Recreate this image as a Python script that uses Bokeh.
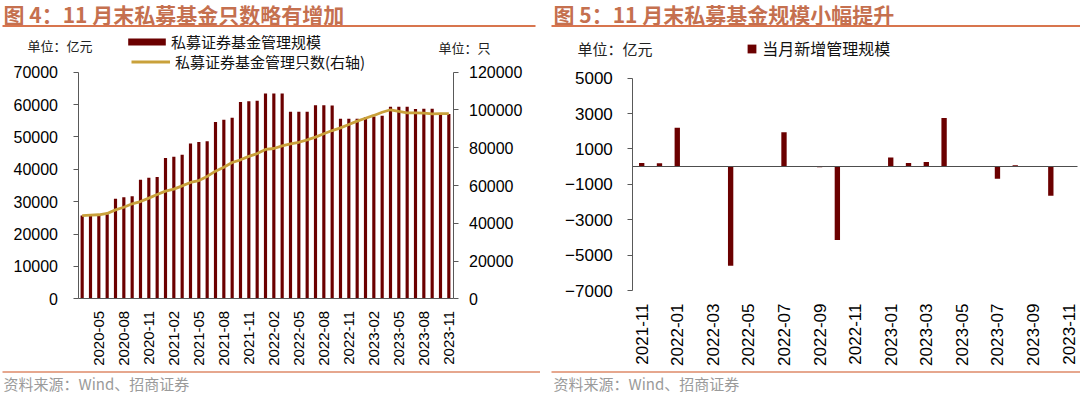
from bokeh.plotting import figure
from bokeh.models import (Range1d, LinearAxis, FixedTicker, Label, Legend, LegendItem,
                          BoxAnnotation, BasicTickFormatter)
from bokeh.layouts import row
from bokeh.embed import file_html
from bokeh.resources import INLINE
import math

# ---------------- data ----------------
months_left = ["2020-03", "2020-04", "2020-05", "2020-06", "2020-07", "2020-08", "2020-09",
               "2020-10", "2020-11", "2020-12", "2021-01", "2021-02", "2021-03", "2021-04",
               "2021-05", "2021-06", "2021-07", "2021-08", "2021-09", "2021-10", "2021-11",
               "2021-12", "2022-01", "2022-02", "2022-03", "2022-04", "2022-05", "2022-06",
               "2022-07", "2022-08", "2022-09", "2022-10", "2022-11", "2022-12", "2023-01",
               "2023-02", "2023-03", "2023-04", "2023-05", "2023-06", "2023-07", "2023-08",
               "2023-09", "2023-10", "2023-11"]
aum_left = [25700, 25800, 25900, 26100, 30900, 31400, 31700, 36800, 37400, 37600,
            43500, 43900, 44500, 48000, 48400, 48700, 54600, 55300, 55900, 60800,
            61000, 61200, 63400, 63400, 63400, 57800, 57800, 57800, 59800, 59800,
            59750, 55600, 55600, 55600, 56100, 56300, 56550, 59300, 59300, 59320,
            58650, 58720, 58720, 57070, 57080]
count_left = [44100, 44300, 44500, 45200, 47100, 48500, 50300, 51500, 53300, 55200,
              57000, 58100, 59800, 61600, 62600, 64800, 67600, 69700, 72200, 73600,
              75400, 76900, 79100, 79600, 81000, 82100, 82900, 84200, 85600, 87400,
              89100, 90500, 92300, 94100, 95600, 97100, 98800, 100100, 99200, 98500,
              98500, 98300, 97900, 98100, 98100]
left_tick_idx = [2, 5, 8, 11, 14, 17, 20, 23, 26, 29, 32, 35, 38, 41, 44]

months_right = ["2021-11", "2021-12", "2022-01", "2022-02", "2022-03", "2022-04", "2022-05",
                "2022-06", "2022-07", "2022-08", "2022-09", "2022-10", "2022-11", "2022-12",
                "2023-01", "2023-02", "2023-03", "2023-04", "2023-05", "2023-06", "2023-07",
                "2023-08", "2023-09", "2023-10", "2023-11"]
change_right = [200, 190, 2200, 0, 10, -5600, 0, 10, 1950, 10, -40, -4150, -10, 0,
                520, 200, 260, 2750, 0, 20, -680, 75, 0, -1650, 10]
right_tick_idx = [0, 2, 4, 6, 8, 10, 12, 14, 16, 18, 20, 22, 24]

left_yticks = [0, 10000, 20000, 30000, 40000, 50000, 60000, 70000]
right_yticks = [0, 20000, 40000, 60000, 80000, 100000, 120000]
chg_yticks = [-7000, -5000, -3000, -1000, 1000, 3000, 5000]

# ---------------- styles / geometry ----------------
BAR = "#6B0000"
GOLD = "#C9A13B"
TITLE_C = "#C5704F"
RULE_C = "#D8754E"
FOOT_RULE_C = "#DE8A68"
AXIS_C = "#595959"
CJK = "Noto Sans CJK SC"
LAT = "Liberation Sans"
W, H = 540, 395


def xrange_from(d0, p0, d1, p1):
    s = (d1 - d0) / (p1 - p0)
    return Range1d(d0 - p0 * s, d0 + (W - p0) * s)


def yrange_from(d0, p0, d1, p1):
    # d0 at pixel p0 (lower value, larger pixel), d1 at pixel p1
    s = (d1 - d0) / (p0 - p1)
    return Range1d(d0 - (H - p0) * s, d0 + p0 * s)


def make_fig(xr, yr):
    p = figure(width=W, height=H, x_range=xr, y_range=yr, output_backend="svg",
               toolbar_location=None, x_axis_location=None, y_axis_location=None,
               min_border_left=0, min_border_right=0, min_border_top=0,
               min_border_bottom=0)
    p.outline_line_color = None
    p.grid.visible = False
    p.background_fill_color = "white"
    return p


def style_axis(ax, size, standoff, tick_out=5):
    ax.axis_line_color = AXIS_C
    ax.axis_line_width = 1
    ax.major_tick_line_color = AXIS_C
    ax.major_tick_out = tick_out
    ax.major_tick_in = 0
    ax.minor_tick_line_color = None
    ax.major_label_text_font = LAT
    ax.major_label_text_font_size = size
    ax.major_label_text_color = "#000000"
    ax.major_label_standoff = standoff


def add_text(p, px, py, text, size, color, font=CJK, style="normal"):
    p.add_layout(Label(x=px, y=H - py, x_units="screen", y_units="screen",
                       text=text, text_font=font, text_font_size=size,
                       text_color=color, text_baseline="middle", text_align="left",
                       text_font_style=style))


def add_rule(p, x0, x1, py, color, t):
    p.add_layout(BoxAnnotation(left=x0, right=x1, bottom=H - py - t / 2,
                               top=H - py + t / 2, left_units="screen", right_units="screen",
                               top_units="screen", bottom_units="screen",
                               fill_color=color, fill_alpha=1, line_color=None,
                               line_alpha=0))


def legend(items, vx, vy, gw, gh, standoff, size):
    return Legend(items=items, location=(vx, vy), glyph_width=gw, glyph_height=gh,
                  label_standoff=standoff, padding=0, margin=0, label_height=20,
                  spacing=0, label_text_font=CJK, label_text_font_size=size,
                  label_text_color="#111111", border_line_color=None,
                  background_fill_alpha=0)


# ---------------- left figure ----------------
p1 = make_fig(xrange_from(-0.5, 77.5, 44.5, 452.5), yrange_from(0, 298.3, 70000, 71.7))
p1.extra_y_ranges = {"cnt": yrange_from(0, 298.3, 120000, 71.7)}

xs_left = list(range(len(months_left)))
bars1 = p1.vbar(x=xs_left, top=aum_left, width=0.38, bottom=0, fill_color=BAR,
                line_color=None)
line1 = p1.line(x=xs_left, y=count_left, y_range_name="cnt", line_color=GOLD,
                line_width=2.8)

ya_l = LinearAxis(fixed_location=-0.5, bounds=(0, 70000), ticker=FixedTicker(ticks=left_yticks))
style_axis(ya_l, "16px", 15)
p1.add_layout(ya_l, "left")

ya_r = LinearAxis(y_range_name="cnt", fixed_location=44.5, bounds=(0, 120000),
                  ticker=FixedTicker(ticks=right_yticks),
                  formatter=BasicTickFormatter(use_scientific=False))
style_axis(ya_r, "16px", 11)
p1.add_layout(ya_r, "right")

xa_l = LinearAxis(fixed_location=0, bounds=(-0.5, 44.5), ticker=FixedTicker(ticks=left_tick_idx))
style_axis(xa_l, "15px", 12, tick_out=0)
xa_l.major_label_overrides = {i: months_left[i] for i in left_tick_idx}
xa_l.major_label_orientation = math.pi / 2
p1.add_layout(xa_l, "below")

p1.add_layout(legend([LegendItem(label="私募证券基金管理规模", renderers=[bars1])],
                     123, H - 51.7, 47, 9, 1, "15px"), "center")
p1.add_layout(legend([LegendItem(label="私募证券基金管理只数(右轴)", renderers=[line1])],
                     131, H - 71.7, 39, 9, 5, "15px"), "center")

add_text(p1, 3, 13, "图 4：11 月末私募基金只数略有增加", "21px", TITLE_C, style="bold")
add_rule(p1, 2, 535, 25.5, RULE_C, 2)
add_text(p1, 27, 45, "单位：亿元", "13px", "#222222")
add_text(p1, 438, 47, "单位：只", "13px", "#222222")
add_rule(p1, 2, 540, 371.5, FOOT_RULE_C, 1.5)
add_text(p1, 3, 382.5, "资料来源：Wind、招商证券", "15px", "#9A9A9A")

# ---------------- right figure ----------------
p2 = make_fig(xrange_from(-0.5, 92.3, 24.5, 537), yrange_from(-7000, 290, 5000, 77.7))

xs_right = list(range(len(months_right)))
bars2 = p2.vbar(x=xs_right, top=change_right, bottom=0, width=0.3, fill_color=BAR,
                line_color=None)

ya2 = LinearAxis(fixed_location=-0.5, bounds=(-7000, 5000), ticker=FixedTicker(ticks=chg_yticks))
style_axis(ya2, "17px", 15)
p2.add_layout(ya2, "left")

zero_ax = LinearAxis(fixed_location=0, bounds=(-0.5, 24.5), ticker=FixedTicker(ticks=[]))
style_axis(zero_ax, "1px", 0, tick_out=0)
zero_ax.axis_line_color = "#4D4D4D"
p2.add_layout(zero_ax, "below")

xa2 = LinearAxis(fixed_location=-7000, bounds=(-0.5, 24.5), ticker=FixedTicker(ticks=right_tick_idx))
style_axis(xa2, "17px", 13, tick_out=0)
xa2.axis_line_color = None
xa2.major_label_overrides = {i: months_right[i] for i in right_tick_idx}
xa2.major_label_orientation = math.pi / 2
p2.add_layout(xa2, "below")

p2.add_layout(legend([LegendItem(label="当月新增管理规模", renderers=[bars2])],
                     206.2, H - 60, 11, 11, 5, "16px"), "center")

add_text(p2, 13, 13, "图 5：11 月末私募基金规模小幅提升", "21px", TITLE_C, style="bold")
add_rule(p2, 11, 540, 25.5, RULE_C, 2)
add_text(p2, 37, 48, "单位：亿元", "15px", "#222222")
add_rule(p2, 11, 540, 371.5, FOOT_RULE_C, 1.5)
add_text(p2, 13, 382.5, "资料来源：Wind、招商证券", "15px", "#9A9A9A")

layout = row(p1, p2, spacing=0)
open("out.html", "w").write(file_html(layout, INLINE))
